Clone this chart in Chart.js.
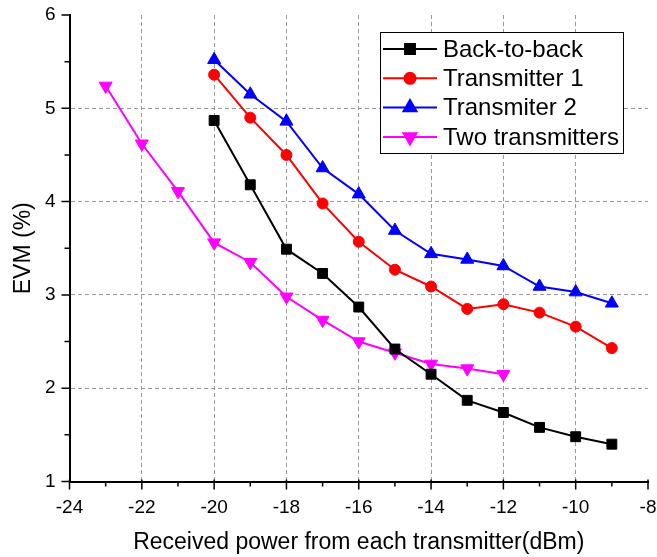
<!DOCTYPE html>
<html>
<head>
<meta charset="utf-8">
<script src="https://cdn.jsdelivr.net/npm/chart.js@4/dist/chart.umd.min.js"></script>
<style>
  html, body { margin: 0; padding: 0; background: #fff; }
  #wrap { width: 657px; height: 557px; }
</style>
</head>
<body>
<div id="wrap"><canvas id="evmChart" width="657" height="557"></canvas></div>
<script>
// Received power (dBm) for each measurement series
const powerSingle = [-20, -19, -18, -17, -16, -15, -14, -13, -12, -11, -10, -9];
const powerTwo = [-23, -22, -21, -20, -19, -18, -17, -16, -15, -14, -13, -12];

// EVM values (%)
const evmBackToBack = [4.87, 4.18, 3.49, 3.23, 2.87, 2.42, 2.15, 1.87, 1.74, 1.58, 1.48, 1.40];
const evmTransmitter1 = [5.36, 4.90, 4.50, 3.98, 3.57, 3.27, 3.09, 2.85, 2.90, 2.81, 2.66, 2.43];
const evmTransmitter2 = [5.52, 5.15, 4.86, 4.36, 4.08, 3.69, 3.44, 3.38, 3.31, 3.09, 3.03, 2.91];
const evmTwoTransmitters = [5.24, 4.62, 4.11, 3.56, 3.35, 2.98, 2.73, 2.50, 2.38, 2.26, 2.21, 2.15];

const seriesLabels = ['Back-to-back', 'Transmitter 1', 'Transmiter 2', 'Two transmitters'];

const xMin = -24, xMax = -8;
const yMin = 1, yMax = 6;

const FONT = "'Liberation Sans', Arial, sans-serif";

function toPoints(xs, ys) {
    return xs.map((x, i) => ({ x: x, y: ys[i] }));
}

function makeSeries(label, xs, ys, color, style, radius, rotation) {
    return {
        label: label,
        data: toPoints(xs, ys),
        borderColor: color,
        backgroundColor: color,
        borderWidth: 2,
        pointStyle: style,
        pointRadius: radius,
        pointHoverRadius: radius,
        pointRotation: rotation || 0,
        pointBorderWidth: 1,
        pointBorderColor: color,
        tension: 0
    };
}

// minor/major tick marks on the outside of the axes
const axisTicks = {
    id: 'axisTicks',
    afterDraw(chart) {
        const ctx = chart.ctx;
        const xs = chart.scales.x;
        const ys = chart.scales.y;
        const area = chart.chartArea;
        ctx.save();
        ctx.strokeStyle = '#000';
        ctx.lineWidth = 1.5;
        ctx.beginPath();
        for (let v = xMin; v <= xMax; v++) {
            const px = xs.getPixelForValue(v);
            const len = (v % 2 === 0) ? 8 : 5;
            ctx.moveTo(px, area.bottom - (v % 2 === 0 ? 2 : 0));
            ctx.lineTo(px, area.bottom + len);
        }
        for (let v = yMin; v <= yMax + 0.001; v += 0.5) {
            const py = ys.getPixelForValue(v);
            const len = (Math.abs(v - Math.round(v)) < 0.01) ? 8 : 5;
            ctx.moveTo(area.left, py);
            ctx.lineTo(area.left - len, py);
        }
        ctx.stroke();
        ctx.restore();
    }
};

// legend box with line + marker, like the original plot
const lineLegend = {
    id: 'lineLegend',
    afterDraw(chart) {
        const ctx = chart.ctx;
        const box = { left: 380, top: 32, right: 623, bottom: 153 };
        ctx.save();
        ctx.fillStyle = '#fff';
        ctx.fillRect(box.left, box.top, box.right - box.left, box.bottom - box.top);
        ctx.strokeStyle = '#000';
        ctx.lineWidth = 1;
        ctx.strokeRect(box.left + 0.5, box.top + 0.5, box.right - box.left, box.bottom - box.top);

        ctx.font = '24px ' + FONT;
        ctx.textBaseline = 'middle';
        ctx.textAlign = 'left';
        chart.data.datasets.forEach((ds, i) => {
            const y = box.top + 17 + i * 29.3;
            ctx.strokeStyle = ds.borderColor;
            ctx.lineWidth = 2;
            ctx.beginPath();
            ctx.moveTo(383, y);
            ctx.lineTo(437, y);
            ctx.stroke();
            Chart.helpers.drawPoint(ctx, {
                pointStyle: ds.pointStyle,
                radius: ds.pointRadius,
                rotation: ds.pointRotation,
                borderWidth: 1
            }, 410, y);
            ctx.fillStyle = ds.backgroundColor;
            ctx.strokeStyle = ds.borderColor;
            ctx.fill();
            ctx.fillStyle = '#000';
            ctx.fillText(ds.label, 443, y + 1);
        });
        ctx.restore();
    }
};

const datasets = [
    makeSeries(seriesLabels[0], powerSingle, evmBackToBack, '#000000', 'rect', 7),
    makeSeries(seriesLabels[1], powerSingle, evmTransmitter1, '#ff0000', 'circle', 5.5),
    makeSeries(seriesLabels[2], powerSingle, evmTransmitter2, '#0000ff', 'triangle', 7.5),
    makeSeries(seriesLabels[3], powerTwo, evmTwoTransmitters, '#ff00ff', 'triangle', 7.5, 180)
];

new Chart(document.getElementById('evmChart'), {
    type: 'line',
    data: { datasets: datasets },
    plugins: [axisTicks, lineLegend],
    options: {
        responsive: false,
        animation: false,
        layout: { padding: { left: 0, top: 15, right: 9, bottom: 0 } },
        plugins: {
            legend: { display: false },
            tooltip: { enabled: false }
        },
        scales: {
            x: {
                type: 'linear',
                min: xMin,
                max: xMax,
                afterFit(scale) {
                    scale.height = 75.5;
                    scale.paddingLeft = 0;
                    scale.paddingRight = 0;
                },
                ticks: {
                    stepSize: 2,
                    padding: 15,
                    color: '#000',
                    font: { family: FONT, size: 19 },
                    maxRotation: 0,
                    callback: v => String(v)
                },
                grid: {
                    drawTicks: false,
                    color: ctx => (ctx.tick && (ctx.tick.value === xMin || ctx.tick.value === xMax)) ? 'rgba(0,0,0,0)' : '#999',
                    lineWidth: 1
                },
                border: { display: true, color: '#000', width: 2, dash: [4, 3] },
                title: {
                    display: true,
                    text: 'Received power from each transmitter(dBm)',
                    color: '#000',
                    font: { family: FONT, size: 23 },
                    padding: { top: 0, bottom: 1 }
                }
            },
            y: {
                type: 'linear',
                min: yMin,
                max: yMax,
                afterFit(scale) {
                    scale.width = 69.5;
                    scale.paddingTop = 0;
                    scale.paddingBottom = 0;
                },
                ticks: {
                    stepSize: 1,
                    padding: 14,
                    color: '#000',
                    font: { family: FONT, size: 19 },
                    callback: v => String(v)
                },
                grid: {
                    drawTicks: false,
                    color: ctx => (ctx.tick && (ctx.tick.value === yMin || ctx.tick.value === yMax)) ? 'rgba(0,0,0,0)' : '#999',
                    lineWidth: 1
                },
                border: { display: true, color: '#000', width: 2, dash: [4, 3] },
                title: {
                    display: true,
                    text: 'EVM (%)',
                    color: '#000',
                    font: { family: FONT, size: 23 },
                    padding: { top: 10, bottom: 0 }
                }
            }
        }
    }
});
</script>
</body>
</html>
